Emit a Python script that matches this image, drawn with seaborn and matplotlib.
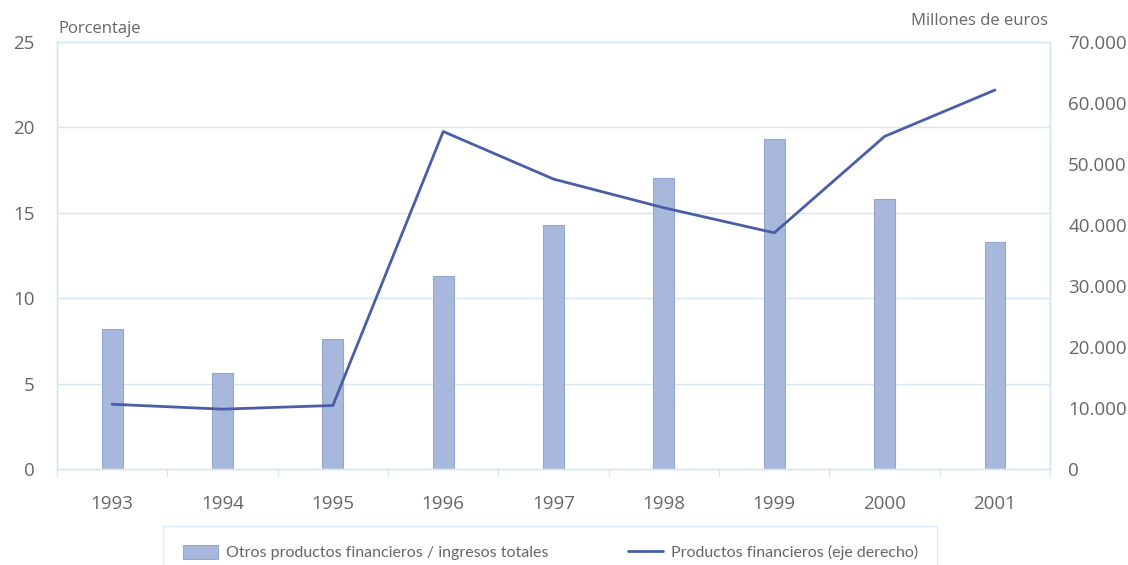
import matplotlib
matplotlib.use("Agg")
import matplotlib.pyplot as plt
import seaborn as sns
import pandas as pd
from matplotlib.ticker import FuncFormatter, FixedLocator

years = ["1993", "1994", "1995", "1996", "1997", "1998", "1999", "2000", "2001"]
otros_pct = [8.2, 5.6, 7.6, 11.3, 14.3, 17.0, 19.3, 15.8, 13.3]
productos_meur = [10600, 9800, 10400, 55300, 47500, 42800, 38700, 54500, 62100]
left_ticks = [0, 5, 10, 15, 20, 25]
right_ticks = [0, 10000, 20000, 30000, 40000, 50000, 60000, 70000]

label_bars = "Otros productos financieros / ingresos totales"
label_line = "Productos financieros (eje derecho)"

sns.set_theme(style="white")
plt.rcParams["font.family"] = ["Open Sans", "DejaVu Sans"]

text_col = "#666666"
grid_col = "#d4e6f3"
bar_col = "#a8b8dc"
bar_edge = "#93a6d2"
line_col = "#4a5ea8"

fig = plt.figure(figsize=(11.28, 5.65), dpi=100)
ax = fig.add_axes([0.0505, 0.170, 0.8805, 0.756])

df = pd.DataFrame({"year": years, "pct": otros_pct, "meur": productos_meur})
sns.barplot(data=df, x="year", y="pct", ax=ax, color=bar_col, width=0.19,
            edgecolor=bar_edge, linewidth=0.8, saturation=1, label=label_bars, zorder=2)

ax2 = ax.twinx()
sns.lineplot(data=df, x="year", y="meur", ax=ax2, color=line_col, linewidth=2.0,
             label=label_line, sort=False, legend=False)

if ax.get_legend() is not None:
    ax.get_legend().remove()
if ax2.get_legend() is not None:
    ax2.get_legend().remove()

ax.set_xlim(-0.5, len(years) - 0.5)
ax.set_ylim(0, 25)
ax2.set_ylim(0, 70000)
ax.set_yticks(left_ticks)
ax2.set_yticks(right_ticks)
ax2.yaxis.set_major_formatter(FuncFormatter(lambda v, p: f"{int(v):,}".replace(",", ".")))

for y in left_ticks[1:-1]:
    ax.axhline(y, color=grid_col, linewidth=1.0, zorder=0)

for a in (ax, ax2):
    for s in a.spines.values():
        s.set_color(grid_col)
        s.set_linewidth(1.0)
    a.set_xlabel("")
    a.set_ylabel("")

ax.tick_params(axis="y", length=0, pad=16, labelsize=13.5, labelcolor=text_col)
ax2.tick_params(axis="y", length=0, pad=13, labelsize=13.5, labelcolor=text_col)
ax.tick_params(axis="x", which="major", length=0, pad=19, labelsize=13.5, labelcolor=text_col)
ax.xaxis.set_minor_locator(FixedLocator([i - 0.5 for i in range(len(years) + 1)]))
ax.tick_params(axis="x", which="minor", length=6, color=grid_col, width=1.0, bottom=True)

fig.text(0.0515, 0.935, "Porcentaje", ha="left", va="bottom", fontsize=12, color=text_col)
fig.text(0.929, 0.949, "Millones de euros", ha="right", va="bottom", fontsize=12, color=text_col)

h1, l1 = ax.get_legend_handles_labels()
h2, l2 = ax2.get_legend_handles_labels()
leg = fig.legend(h1 + h2, l1 + l2, loc="center", bbox_to_anchor=(0.488, 0.022), ncol=2,
                 frameon=True, prop={"family": ["Lato", "DejaVu Sans"], "size": 11.5},
                 handlelength=2.2, handleheight=1.0,
                 handletextpad=0.5, columnspacing=5.0, borderpad=1.2, fancybox=False)
leg.get_frame().set_edgecolor(grid_col)
leg.get_frame().set_linewidth(1.0)
for t in leg.get_texts():
    t.set_color(text_col)

fig.savefig("out.png", dpi=100)
